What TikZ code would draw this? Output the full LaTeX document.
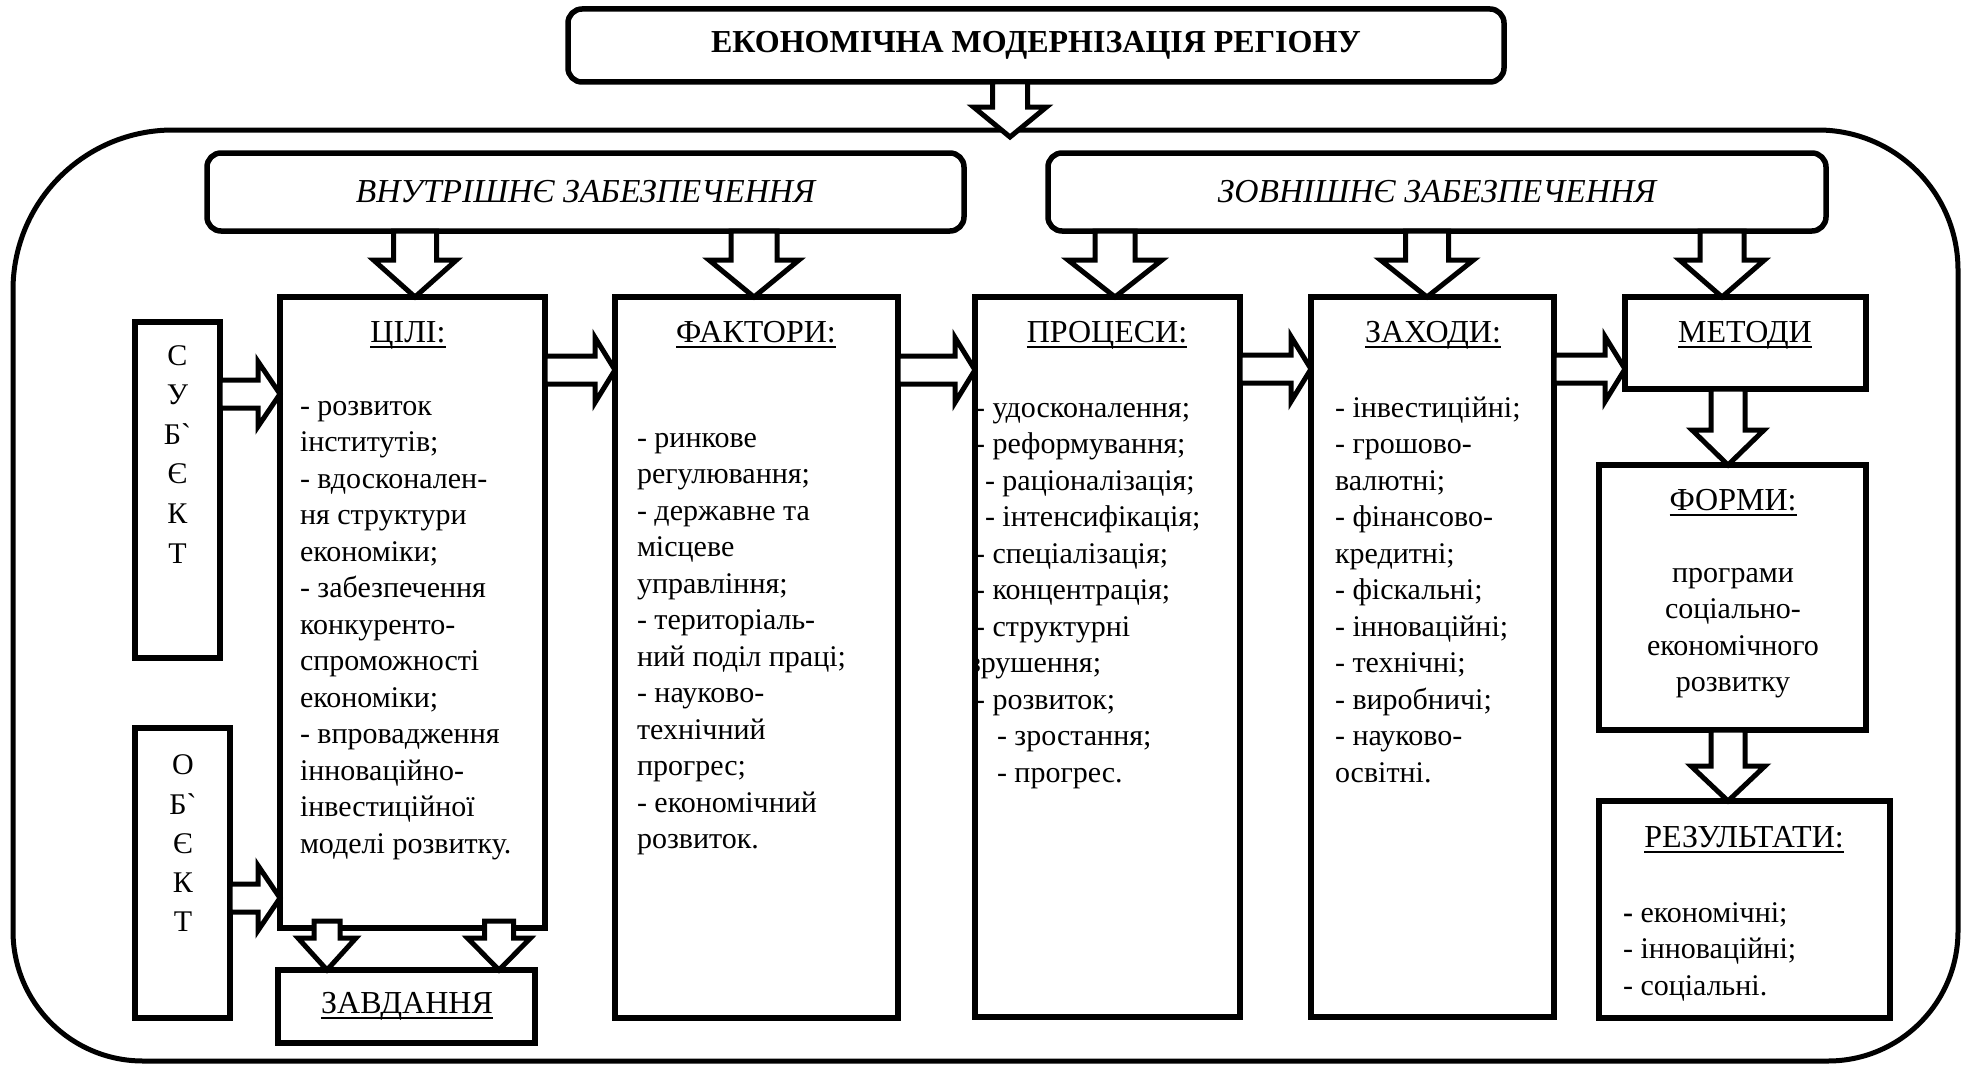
\documentclass[tikz,border=0pt]{standalone}
\usepackage{fontspec}
\setmainfont{Liberation Serif}
\newfontfamily\gravefont{Liberation Serif}[Ligatures=TeXOff]
\usetikzlibrary{calc}
\newcommand\gr{{\gravefont `}}
\newcommand\bodyfont{\fontsize{30pt}{36.5pt}\selectfont}
\newcommand\headfont{\fontsize{32pt}{38pt}\selectfont}
\newcommand\hd[1]{\setbox0\hbox{#1}\rlap{\rule[-6pt]{\wd0}{2pt}}\box0}
\newcommand\vblock[5]{%
 \draw[blockarrow] let \p1=#1, \p2=#2 in
  (\x1-#3pt,\y1) -- (\x1-#3pt,\y2+#5pt) -- (\x1-#4pt,\y2+#5pt) -- (\x1,\y2)
  -- (\x1+#4pt,\y2+#5pt) -- (\x1+#3pt,\y2+#5pt) -- (\x1+#3pt,\y1) -- cycle;}
\newcommand\hblock[5]{%
 \draw[blockarrow] let \p1=#1, \p2=#2 in
  (\x1,\y1+#3pt) -- (\x2-#5pt,\y1+#3pt) -- (\x2-#5pt,\y1+#4pt) -- (\x2,\y1)
  -- (\x2-#5pt,\y1-#4pt) -- (\x2-#5pt,\y1-#3pt) -- (\x1,\y1-#3pt) -- cycle;}
\tikzset{
 box/.style={draw, rectangle, line width=5.5pt, fill=white, inner sep=0pt, outer sep=0pt, anchor=north west},
 rbox/.style={box, rounded corners=14pt},
 blockarrow/.style={draw, line width=5pt, fill=white, line join=miter},
 txt/.style={inner sep=0pt, outer sep=0pt, font=\bodyfont, align=left, anchor=north west},
 ctxt/.style={inner sep=0pt, outer sep=0pt, font=\bodyfont, align=center, anchor=north},
 head/.style={inner sep=0pt, outer sep=0pt, font=\headfont, anchor=base},
 outerline/.style={draw, line width=5pt},
}
\begin{document}
\begin{tikzpicture}[x=1pt,y=-1pt]
\useasboundingbox (0,0) rectangle (1966,1065);
\fill[white] (0,0) rectangle (1966,1065);

% outer rounded frame
\draw[outerline] (173,130) -- (1818,130)
  .. controls (1895.3,130) and (1958,192.7) .. (1958,270)
  -- (1958,931)
  .. controls (1958,1002.8) and (1899.8,1061) .. (1828,1061)
  -- (143,1061)
  .. controls (71.2,1061) and (13,1002.8) .. (13,931)
  -- (13,290)
  .. controls (13,201.6) and (84.6,130) .. (173,130) -- cycle;
\coordinate (titletip) at (1010,137);

% boxes
\node[rbox, minimum width=936pt, minimum height=73pt] (title) at (568,9) {};
\node[rbox, minimum width=757pt, minimum height=78pt] (internal) at (207,153) {};
\node[rbox, minimum width=778pt, minimum height=78pt] (external) at (1048,153) {};
\node[box, minimum width=85pt, minimum height=336pt] (subj) at (135,322) {};
\node[box, minimum width=95pt, minimum height=290pt] (obj) at (135,728) {};
\node[box, minimum width=265pt, minimum height=631pt] (goals) at (280,297) {};
\node[box, minimum width=257pt, minimum height=73pt] (tasks) at (278,970) {};
\node[box, minimum width=283pt, minimum height=721pt] (factors) at (615,297) {};
\node[box, minimum width=265pt, minimum height=720pt] (processes) at (975,297) {};
\node[box, minimum width=243pt, minimum height=720pt] (measures) at (1311,297) {};
\node[box, minimum width=241pt, minimum height=92pt] (methods) at (1625,297) {};
\node[box, minimum width=267pt, minimum height=265pt] (forms) at (1599,465) {};
\node[box, minimum width=291pt, minimum height=217pt] (results) at (1599,801) {};

% titles
\node[inner sep=0pt, font=\bfseries\fontsize{32pt}{36pt}\selectfont] (titleT) at (title.center) {ЕКОНОМІЧНА МОДЕРНІЗАЦІЯ РЕГІОНУ};
\node[inner sep=0pt, font=\itshape\fontsize{33.5pt}{38pt}\selectfont] (internalT) at (internal.center) {ВНУТРІШНЄ ЗАБЕЗПЕЧЕННЯ};
\node[inner sep=0pt, font=\itshape\fontsize{33.5pt}{38pt}\selectfont] (externalT) at (external.center) {ЗОВНІШНЄ ЗАБЕЗПЕЧЕННЯ};

% vertical letters
\node[inner sep=0pt, outer sep=0pt, align=center, anchor=north, font=\fontsize{30pt}{39.6pt}\selectfont] (subjT) at (177.5,337.3)
 {\strut С\\\strut У\\\strut Б\gr\\\strut Є\\\strut К\\\strut Т};
\node[inner sep=0pt, outer sep=0pt, align=center, anchor=north, font=\fontsize{30pt}{39.25pt}\selectfont] (objT) at (183,747.5)
 {\strut О\\\strut Б\gr\\\strut Є\\\strut К\\\strut Т};

% headings
\node[head] (goalsH) at (408,342) {\hd{ЦІЛІ:}};
\node[head] (factorsH) at (756,342) {\hd{ФАКТОРИ:}};
\node[head] (processesH) at (1107,342) {\hd{ПРОЦЕСИ:}};
\node[head] (measuresH) at (1433,342) {\hd{ЗАХОДИ:}};
\node[head] (methodsH) at (1745,342) {\hd{МЕТОДИ}};
\node[head] (formsH) at (1733,510) {\hd{ФОРМИ:}};
\node[head] (resultsH) at (1744,847) {\hd{РЕЗУЛЬТАТИ:}};
\node[head] (tasksH) at (407,1013) {\hd{ЗАВДАННЯ}};

% lists
\node[txt] (goalsT) at (300,389.45) {\strut- розвиток\\\strut інститутів;\\\strut- вдосконален-\\\strut ня структури\\\strut економіки;\\\strut- забезпечення\\\strut конкуренто-\\\strut спроможності\\\strut економіки;\\\strut- впровадження\\\strut інноваційно-\\\strut інвестиційної\\\strut моделі розвитку.};

\node[txt] (factorsT) at (637,421.45) {\strut- ринкове\\\strut регулювання;\\\strut- державне та\\\strut місцеве\\\strut управління;\\\strut- територіаль-\\\strut ний поділ праці;\\\strut- науково-\\\strut технічний\\\strut прогрес;\\\strut- економічний\\\strut розвиток.};

\begin{scope}
\clip (977.5,299.5) rectangle (1237.5,1014.5);
\node[txt] (processesT) at (963,391.45) {\strut\hspace*{12pt}- удосконалення;\\\strut\hspace*{12pt}- реформування;\\\strut\hspace*{22pt}- раціоналізація;\\\strut\hspace*{22pt}- інтенсифікація;\\\strut\hspace*{12pt}- спеціалізація;\\\strut\hspace*{12pt}- концентрація;\\\strut\hspace*{12pt}- структурні\\\strut\hspace*{6pt}зрушення;\\\strut\hspace*{12pt}- розвиток;\\\strut\hspace*{34pt}- зростання;\\\strut\hspace*{34pt}- прогрес.};
\end{scope}

\node[txt] (measuresT) at (1335,391.45) {\strut- інвестиційні;\\\strut- грошово-\\\strut валютні;\\\strut- фінансово-\\\strut кредитні;\\\strut- фіскальні;\\\strut- інноваційні;\\\strut- технічні;\\\strut- виробничі;\\\strut- науково-\\\strut освітні.};

\node[ctxt] (formsT) at (1733,556.45) {\strut програми\\\strut соціально-\\\strut економічного\\\strut розвитку};

\node[txt] (resultsT) at (1623,896.45) {\strut{\bfseries -} економічні;\\\strut- інноваційні;\\\strut- соціальні.};

% block arrows
\vblock{(1010,0 |- title.south)}{(titletip)}{17.5}{36.5}{30}
\vblock{(415,0 |- internal.south)}{(415,0 |- goals.north)}{21.5}{41.5}{37}
\vblock{(754,0 |- internal.south)}{(754,0 |- factors.north)}{23}{45}{37}
\vblock{(1115,0 |- external.south)}{(1115,0 |- processes.north)}{20}{47}{37}
\vblock{(1427,0 |- external.south)}{(1427,0 |- measures.north)}{21.5}{46.5}{37}
\vblock{(1722,0 |- external.south)}{(1722,0 |- methods.north)}{22}{42.5}{37}
\vblock{(1728,0 |- methods.south)}{(1728,0 |- forms.north)}{17}{36}{35}
\vblock{(1728,0 |- forms.south)}{(1728,0 |- results.north)}{17}{37}{35}
\vblock{(327,921)}{(327,0 |- tasks.north)}{13}{29}{32}
\vblock{(499,921)}{(499,0 |- tasks.north)}{14.5}{31.5}{32}

\hblock{(goals.east |- 0,370)}{(factors.west |- 0,370)}{14}{32.5}{20}
\hblock{(factors.east |- 0,370)}{(processes.west |- 0,370)}{14}{32.5}{20}
\hblock{(processes.east |- 0,369)}{(measures.west |- 0,369)}{14}{32.5}{20}
\hblock{(measures.east |- 0,369)}{(methods.west |- 0,369)}{14}{32.5}{20}
\hblock{(subj.east |- 0,394)}{(goals.west |- 0,394)}{14}{32.5}{22}
\hblock{(obj.east |- 0,898)}{(goals.west |- 0,898)}{14}{32.5}{22}
\end{tikzpicture}
\end{document}
